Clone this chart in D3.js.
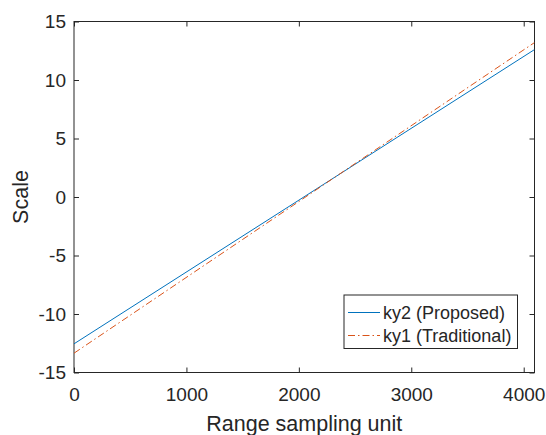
<!DOCTYPE html>
<html><head><meta charset="utf-8">
<script src="https://cdn.jsdelivr.net/npm/d3@7"></script>
<style>body{margin:0;background:#fff}text{font-family:"Liberation Sans",Arial,sans-serif;fill:#262626}</style>
</head><body><svg id="c" width="546" height="435"></svg>
<script>
const xTicks=[0,1000,2000,3000,4000];
const yTicks=[-15,-10,-5,0,5,10,15];
const xRange=[0,4096];
const seriesNames=["ky2 (Proposed)","ky1 (Traditional)"];
const ky2X=[0,4096];
const ky2Y=[-12.55,12.6];
const ky1X=[0,4096];
const ky1Y=[-13.35,13.2];
const colors=["#0072BD","#D95319"];

const svg=d3.select("#c");
const L=74,R=534.5,T=21.5,B=372.5;
const x=d3.scaleLinear().domain(xRange).range([L,R]);
const y=d3.scaleLinear().domain([-15,15]).range([B,T]);
const g=svg.append("g");
g.append("rect").attr("x",L).attr("y",T).attr("width",R-L).attr("height",B-T).attr("fill","none").attr("stroke","#262626").attr("stroke-width",1);
const tl=5;
const fmt=d=>String(d);
const axB=d3.axisBottom(x).tickValues(xTicks).tickSize(-tl).tickPadding(15).tickFormat(fmt);
const axL=d3.axisLeft(y).tickValues(yTicks).tickSize(-tl).tickPadding(8).tickFormat(fmt);
const axT=d3.axisTop(x).tickValues(xTicks).tickSize(-tl).tickFormat("");
const axR=d3.axisRight(y).tickValues(yTicks).tickSize(-tl).tickFormat("");
function style(s){s.select(".domain").remove();s.selectAll("line").attr("stroke","#262626");s.selectAll("text").attr("font-size","19px").attr("fill","#262626").style("font-family","'Liberation Sans',Arial,sans-serif");}
g.append("g").attr("transform",`translate(0,${B})`).call(axB).call(style);
g.append("g").attr("transform",`translate(${L},0)`).call(axL).call(style);
g.append("g").attr("transform",`translate(0,${T})`).call(axT).call(style);
g.append("g").attr("transform",`translate(${R},0)`).call(axR).call(style);

const line=d3.line().x(d=>x(d[0])).y(d=>y(d[1]));
svg.append("clipPath").attr("id","cp").append("rect").attr("x",L).attr("y",T).attr("width",R-L).attr("height",B-T);
g.append("path").datum(ky2X.map((v,i)=>[v,ky2Y[i]])).attr("d",line).attr("fill","none").attr("stroke",colors[0]).attr("stroke-width",1).attr("clip-path","url(#cp)");
g.append("path").datum(ky1X.map((v,i)=>[v,ky1Y[i]])).attr("d",line).attr("fill","none").attr("stroke",colors[1]).attr("stroke-width",1).attr("stroke-dasharray","7,3,1.5,3").attr("clip-path","url(#cp)");

svg.append("text").attr("x",(L+R)/2).attr("y",431).attr("text-anchor","middle").attr("font-size","21.5px").text("Range sampling unit");
svg.append("text").attr("transform",`translate(28,${(T+B)/2}) rotate(-90)`).attr("text-anchor","middle").attr("font-size","21.5px").text("Scale");

const lg=svg.append("g");
lg.append("rect").attr("x",344).attr("y",295).attr("width",173.5).attr("height",53.5).attr("fill","#fff").attr("stroke","#262626").attr("stroke-width",1);
const rows=[312.5,335.5];
seriesNames.forEach((n,i)=>{
  lg.append("line").attr("x1",348).attr("x2",380).attr("y1",rows[i]).attr("y2",rows[i]).attr("stroke",colors[i]).attr("stroke-width",1).attr("stroke-dasharray",i?"7,3,1.5,3":null);
  lg.append("text").attr("x",383).attr("y",rows[i]).attr("dy","0.35em").attr("font-size","18px").text(n);
});
</script></body></html>
